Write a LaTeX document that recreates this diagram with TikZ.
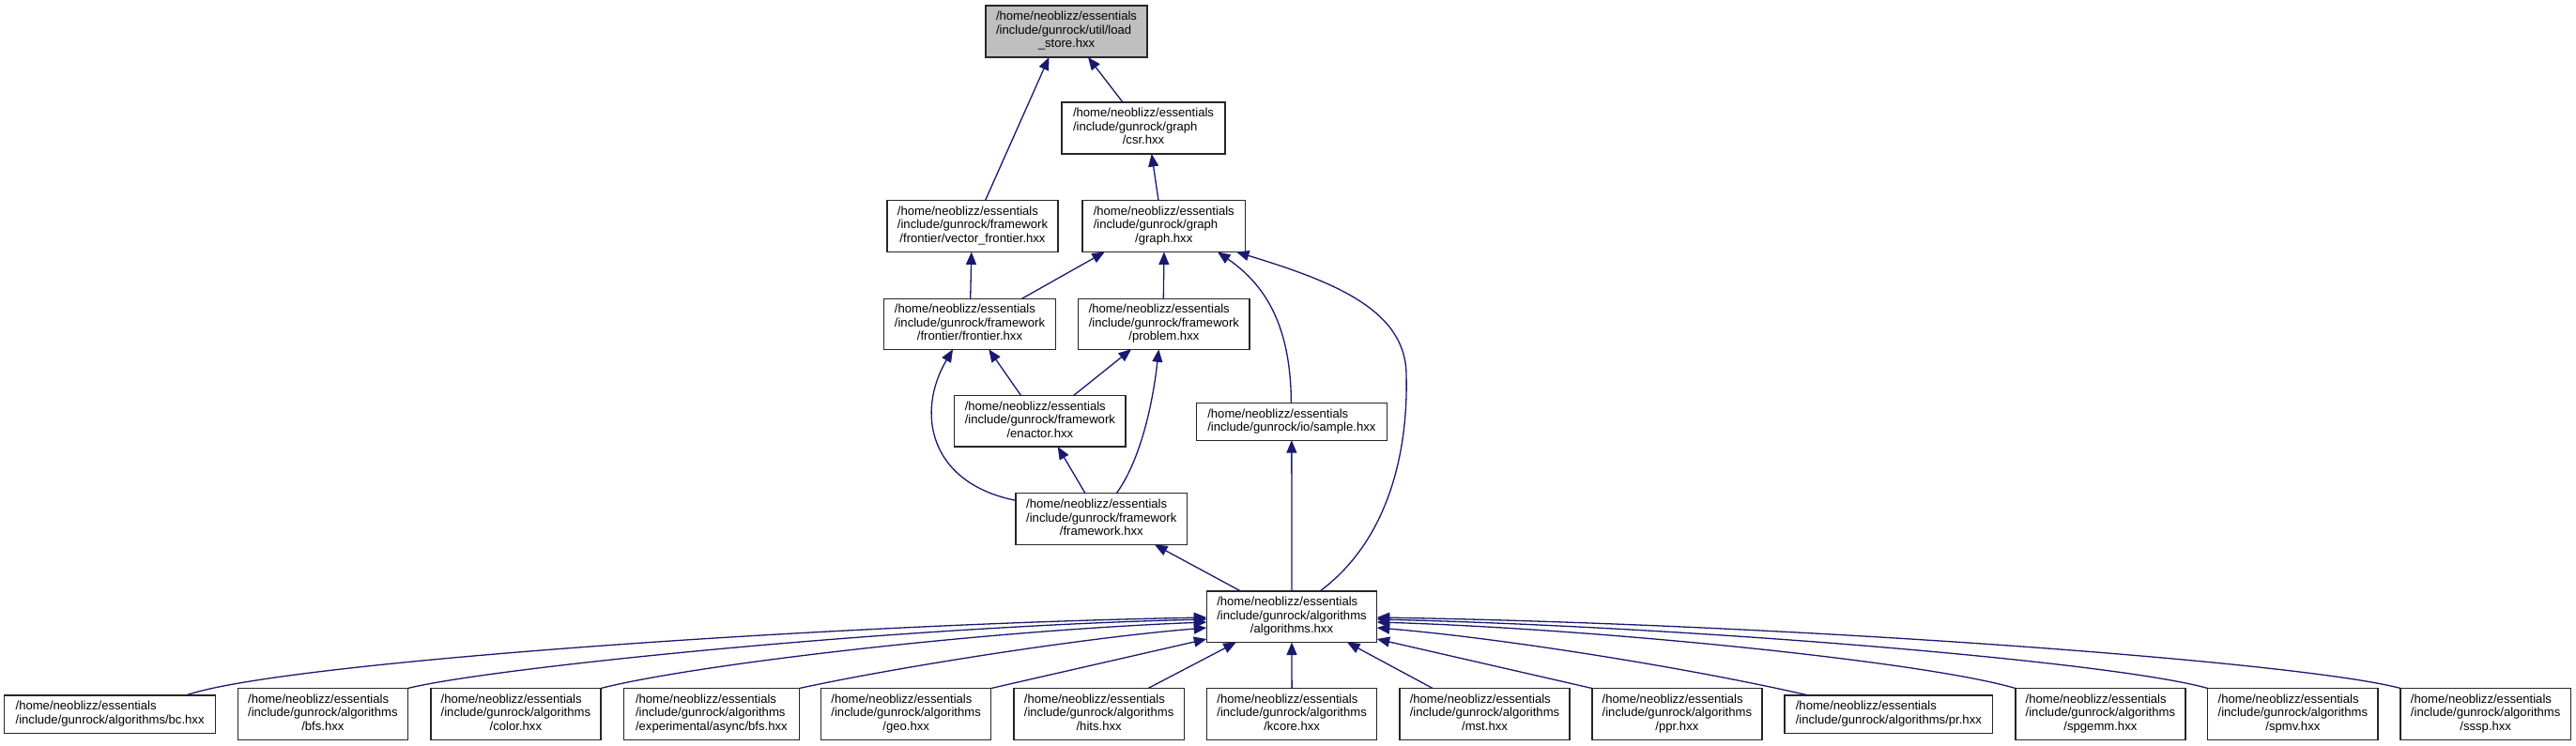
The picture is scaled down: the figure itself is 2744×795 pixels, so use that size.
\documentclass[tikz,border=0pt]{standalone}
\usepackage{fontspec}
\setmainfont{Liberation Sans}
\usetikzlibrary{arrows.meta}
\definecolor{edgeblue}{HTML}{191970}
\definecolor{lsgray}{HTML}{BFBFBF}
\newcommand{\dthree}[3]{\begin{tabular}{@{}l@{}}#1\\#2\\\multicolumn{1}{@{}c@{}}{#3}\end{tabular}}
\newcommand{\dtwo}[2]{\begin{tabular}{@{}l@{}}#1\\#2\end{tabular}}
\newcommand{\hm}{/home/neoblizz/essentials}
\tikzset{
  box/.style={draw=black!85, line width=1.4pt, fill=white, inner sep=0pt, outer sep=0pt,
    font={\fontsize{13.1}{14.5}\selectfont}},
  bthree/.style={box, minimum width=181.2pt, minimum height=55pt},
  btwo/.style={box, minimum height=40.5pt},
  dep/.style={draw=edgeblue, line width=1.3pt, arrows={Triangle[length=13.5pt,width=11pt]-}}
}
\begin{document}
\begin{tikzpicture}[x=1pt,y=-1pt]
\fill[white] (0,0) rectangle (2744,795);
\useasboundingbox (0,0) rectangle (2744,795);
% upper nodes
\node[box, minimum width=172pt, minimum height=55pt, fill=lsgray] (ls) at (1136,33.5) {\dthree{\hm}{/include/gunrock/util/load}{\_store.hxx}};
\node[box, minimum width=174pt, minimum height=55pt] (csr) at (1218,136.5) {\dthree{\hm}{/include/gunrock/graph}{/csr.hxx}};
\node[box, minimum width=182pt, minimum height=55pt] (vf) at (1036,241) {\dthree{\hm}{/include/gunrock/framework}{/frontier/vector\_frontier.hxx}};
\node[box, minimum width=173.5pt, minimum height=55pt] (graph) at (1239.75,241) {\dthree{\hm}{/include/gunrock/graph}{/graph.hxx}};
\node[box, minimum width=182.6pt, minimum height=54pt] (frontier) at (1033,345.3) {\dthree{\hm}{/include/gunrock/framework}{/frontier/frontier.hxx}};
\node[box, minimum width=182.3pt, minimum height=54pt] (problem) at (1239.85,345.3) {\dthree{\hm}{/include/gunrock/framework}{/problem.hxx}};
\node[box, minimum width=182.3pt, minimum height=54.3pt] (enactor) at (1107.85,448.85) {\dthree{\hm}{/include/gunrock/framework}{/enactor.hxx}};
\node[box, minimum width=202.7pt, minimum height=39.7pt] (sample) at (1375.85,449.35) {\dtwo{\hm}{/include/gunrock/io/sample.hxx}};
\node[box, minimum width=182.5pt, minimum height=54.8pt] (framework) at (1173.25,553.1) {\dthree{\hm}{/include/gunrock/framework}{/framework.hxx}};
\node[box, minimum width=181.4pt, minimum height=54.5pt] (alg) at (1376,657.25) {\dthree{\hm}{/include/gunrock/algorithms}{/algorithms.hxx}};
% bottom row
\node[btwo, minimum width=224.8pt] (bc) at (117.1,761.25) {\dtwo{\hm}{/include/gunrock/algorithms/bc.hxx}};
\node[bthree] (bfs) at (343.85,761) {\dthree{\hm}{/include/gunrock/algorithms}{/bfs.hxx}};
\node[bthree] (color) at (549.4,761) {\dthree{\hm}{/include/gunrock/algorithms}{/color.hxx}};
\node[bthree, minimum width=187.3pt] (async) at (757.85,761) {\dthree{\hm}{/include/gunrock/algorithms}{/experimental/async/bfs.hxx}};
\node[bthree] (geo) at (965.15,761) {\dthree{\hm}{/include/gunrock/algorithms}{/geo.hxx}};
\node[bthree] (hits) at (1170.6,761) {\dthree{\hm}{/include/gunrock/algorithms}{/hits.hxx}};
\node[bthree] (kcore) at (1376.1,761) {\dthree{\hm}{/include/gunrock/algorithms}{/kcore.hxx}};
\node[bthree] (mst) at (1581.5,761) {\dthree{\hm}{/include/gunrock/algorithms}{/mst.hxx}};
\node[bthree] (ppr) at (1786.4,761) {\dthree{\hm}{/include/gunrock/algorithms}{/ppr.hxx}};
\node[btwo, minimum width=221.7pt] (pr) at (2011.85,761.25) {\dtwo{\hm}{/include/gunrock/algorithms/pr.hxx}};
\node[bthree] (spgemm) at (2237.4,761) {\dthree{\hm}{/include/gunrock/algorithms}{/spgemm.hxx}};
\node[bthree] (spmv) at (2442.35,761) {\dthree{\hm}{/include/gunrock/algorithms}{/spmv.hxx}};
\node[bthree] (sssp) at (2647.7,761) {\dthree{\hm}{/include/gunrock/algorithms}{/sssp.hxx}};
% edges (arrow at parent end)
\draw[dep] ([xshift=67.4pt]ls.south west) -- ([xshift=104.6pt]vf.north west);
\draw[dep] ([xshift=109pt]ls.south west) -- ([xshift=65pt]csr.north west);
\draw[dep] ([xshift=95.7pt]csr.south west) -- ([xshift=81pt]graph.north west);
\draw[dep] ([xshift=89.8pt]vf.south west) -- ([xshift=92pt]frontier.north west);
\draw[dep] ([xshift=23.8pt]graph.south west) -- ([xshift=146.8pt]frontier.north west);
\draw[dep] ([xshift=87pt]graph.south west) -- ([xshift=90.6pt]problem.north west);
\draw[dep] ([xshift=144pt]graph.south west) .. controls (1350,305) and (1375,350) .. ([xshift=100.9pt]sample.north west);
\draw[dep] ([xshift=164pt]graph.south west) .. controls (1420,300) and (1498,330) .. (1498,400) .. controls (1500,480) and (1480,575) .. ([xshift=120.7pt]alg.north west);
\draw[dep] ([xshift=111.6pt]frontier.south west) -- ([xshift=71pt]enactor.north west);
\draw[dep] ([xshift=56.3pt]problem.south west) -- ([xshift=126.6pt]enactor.north west);
\draw[dep] ([xshift=73.3pt]frontier.south west) .. controls (975,440) and (990,515) .. ([yshift=-7.6pt]framework.north west);
\draw[dep] ([xshift=85.6pt]problem.south west) .. controls (1228,430) and (1215,490) .. ([xshift=107.3pt]framework.north west);
\draw[dep] ([xshift=110pt]enactor.south west) -- ([xshift=74pt]framework.north west);
\draw[dep] ([xshift=148pt]framework.south west) -- ([xshift=36.4pt]alg.north west);
\draw[dep] (sample.south) -- (alg.north);
\draw[dep] ([xshift=31.4pt]alg.south west) -- ([xshift=143pt]hits.north west);
\draw[dep] (alg.south) -- (kcore.north);
\draw[dep] ([xshift=149.7pt]alg.south west) -- ([xshift=35.1pt]mst.north west);
\draw[dep] ([yshift=-51pt]alg.north west) -- (geo.north east);
\draw[dep] ([yshift=-51pt]alg.north east) -- (ppr.north west);
\draw[dep] ([yshift=-39pt]alg.north west) .. controls (1150,680) and (950,712) .. (async.north east);
\draw[dep] ([yshift=-39pt]alg.north east) .. controls (1600,680) and (1800,712) .. ([xshift=25.4pt]pr.north west);
\draw[dep] ([yshift=-33pt]alg.north west) .. controls (1050,672) and (740,708) .. (color.north east);
\draw[dep] ([yshift=-33pt]alg.north east) .. controls (1700,670) and (2050,705) .. (spgemm.north west);
\draw[dep] ([yshift=-30pt]alg.north west) .. controls (950,668) and (520,712) .. (bfs.north east);
\draw[dep] ([yshift=-30pt]alg.north east) .. controls (1800,668) and (2250,705) .. (spmv.north west);
\draw[dep] ([yshift=-28pt]alg.north west) .. controls (900,665) and (300,705) .. ([xshift=193.3pt]bc.north west);
\draw[dep] ([yshift=-28pt]alg.north east) .. controls (1900,665) and (2450,705) .. (sssp.north west);
\end{tikzpicture}
\end{document}
